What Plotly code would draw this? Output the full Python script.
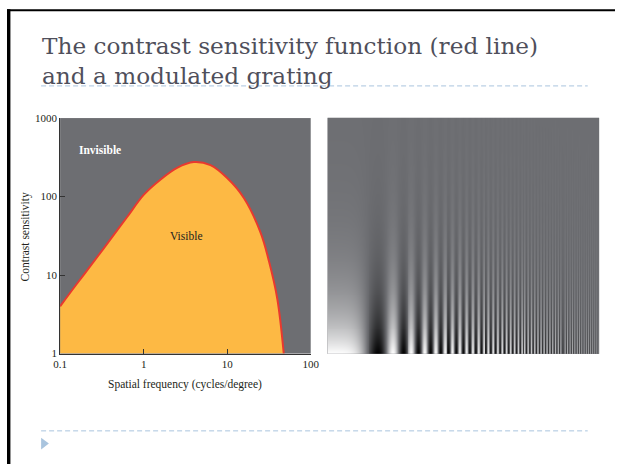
import numpy as np
import plotly.graph_objects as go

W, H = 624, 470

# ---- data ----
freq = [0.1, 0.158, 0.251, 0.398, 0.631, 1.0, 1.585, 2.512, 3.981, 6.31, 10.0, 15.85, 25.12, 31.62, 39.81, 47.6]
sens = [4.0, 7.7, 14.7, 28.3, 54.5, 105, 164, 232, 275, 251, 172, 96, 34.7, 15.1, 5.0, 1.0]
x_ticks = [0.1, 1, 10, 100]
x_tick_labels = ["0.1", "1", "10", "100"]
y_ticks = [1, 10, 100, 1000]
y_tick_labels = ["1", "10", "100", "1000"]

# grating (Campbell-Robson style) parameters
grating_cols = 279
grating_rows = 243
chirp_scale_px = 67.0
chirp_power = 2.75
contrast_decades = 2.2
blur_px = 1.6

BG = "#6d6e72"
ORANGE = "#fdb944"
RED = "#e8392f"
TXT = "#231f20"
TITLE = "#4f4f5b"
ACCENT = "#a9c4de"


def X(p):
    return p / W


def Y(p):
    return 1 - p / H


# grating image: each column is the box-averaged chirp over blur_px
sub = 16
centers = np.arange(grating_cols) + 0.5
offs = (np.arange(sub) + 0.5) / sub - 0.5
us = np.clip(centers[:, None] + offs[None, :] * blur_px, 0, None)
phase = 2 * np.pi * (us / chirp_scale_px) ** chirp_power
col = np.cos(phase).mean(axis=1)
v = (np.arange(grating_rows) + 0.5) / grating_rows
contrast = 10 ** (-contrast_decades * v)
z = contrast[:, None] * col[None, :]

fig = go.Figure()
fig.add_trace(go.Scatter(x=[freq[0], freq[-1]], y=[1, 1], mode="lines",
                         line=dict(width=0, color=ORANGE), showlegend=False,
                         hoverinfo="skip", xaxis="x", yaxis="y"))
fig.add_trace(go.Scatter(x=freq, y=sens, mode="lines",
                         line=dict(color=RED, width=2, shape="spline", smoothing=1),
                         fill="tonexty", fillcolor=ORANGE, showlegend=False,
                         xaxis="x", yaxis="y"))
fig.add_trace(go.Heatmap(z=z, x=centers, y=np.arange(grating_rows) + 0.5,
                         zmin=-1, zmax=1, zsmooth=False, showscale=False,
                         colorscale=[[0, "#000000"], [0.5, BG], [1, "#ffffff"]],
                         xaxis="x2", yaxis="y2", hoverinfo="skip"))

tickfont = dict(family="Liberation Serif", size=11, color=TXT)
fig.update_layout(
    width=W, height=H, margin=dict(l=0, r=0, t=0, b=0),
    paper_bgcolor="white", plot_bgcolor=BG, showlegend=False,
    xaxis=dict(domain=[X(54.5), X(311.7)], type="log", range=[-1, 2], anchor="y",
               showgrid=False, zeroline=False, showline=True, linecolor="#333", linewidth=1,
               ticks="inside", ticklen=5, tickcolor="#333", tickvals=x_ticks,
               ticktext=x_tick_labels, tickfont=tickfont),
    yaxis=dict(domain=[Y(356.7), Y(115)], type="log", range=[0, 3], anchor="x",
               showgrid=False, zeroline=False, showline=True, linecolor="#333", linewidth=1,
               ticks="inside", ticklen=5, tickcolor="#333", tickvals=y_ticks,
               ticktext=y_tick_labels, tickfont=tickfont),
    xaxis2=dict(domain=[X(329), X(607.7)], range=[0, grating_cols], anchor="y2",
                visible=False, fixedrange=True),
    yaxis2=dict(domain=[Y(357), Y(114.7)], range=[0, grating_rows], anchor="x2",
                visible=False, fixedrange=True),
)

ann = []
tf = dict(family="DejaVu Serif", size=23.2, color=TITLE)
ann.append(dict(text="The contrast sensitivity function (red line)", x=X(34), y=Y(41),
                xanchor="left", yanchor="middle", font=tf))
ann.append(dict(text="and a modulated grating", x=X(34), y=Y(71),
                xanchor="left", yanchor="middle", font=tf))
lf = dict(family="Liberation Serif", size=11.5, color=TXT)
ann.append(dict(text="<b>Invisible</b>", x=X(95), y=Y(147.5), xanchor="center", yanchor="middle",
                font=dict(family="Liberation Serif", size=11.5, color="white")))
ann.append(dict(text="Visible", x=X(184.5), y=Y(236), xanchor="center", yanchor="middle", font=lf))
ann.append(dict(text="Spatial frequency (cycles/degree)", x=X(183), y=Y(388),
                xanchor="center", yanchor="middle", font=lf))
ann.append(dict(text="Contrast sensitivity", x=X(19), y=Y(237), textangle=-90,
                xanchor="center", yanchor="middle", font=lf))
for a in ann:
    a.update(xref="paper", yref="paper", showarrow=False)
fig.update_layout(annotations=ann)

shapes = []
# slide frame (left and top)
shapes.append(dict(type="rect", x0=X(0), x1=X(3.5), y0=Y(470), y1=Y(3.3),
                   fillcolor="black", line=dict(width=0)))
shapes.append(dict(type="rect", x0=X(0), x1=X(624), y0=Y(5.3), y1=Y(3.3),
                   fillcolor="black", line=dict(width=0)))
# dashed rules
for yy in (82, 436):
    shapes.append(dict(type="line", x0=X(35), x1=X(596), y0=Y(yy), y1=Y(yy),
                       line=dict(color=ACCENT, width=1, dash="5px,3px")))
# bullet triangle
shapes.append(dict(type="path",
                   path=f"M {X(35)} {Y(443)} L {X(43)} {Y(449)} L {X(35)} {Y(455)} Z",
                   fillcolor=ACCENT, line=dict(width=0)))
for s in shapes:
    s.update(xref="paper", yref="paper")
fig.update_layout(shapes=shapes)

reset_css = "document.documentElement.style.margin='0';document.body.style.margin='0';document.body.style.overflow='hidden';"
fig.write_html("out.html", post_script=reset_css, config={"displayModeBar": False})
